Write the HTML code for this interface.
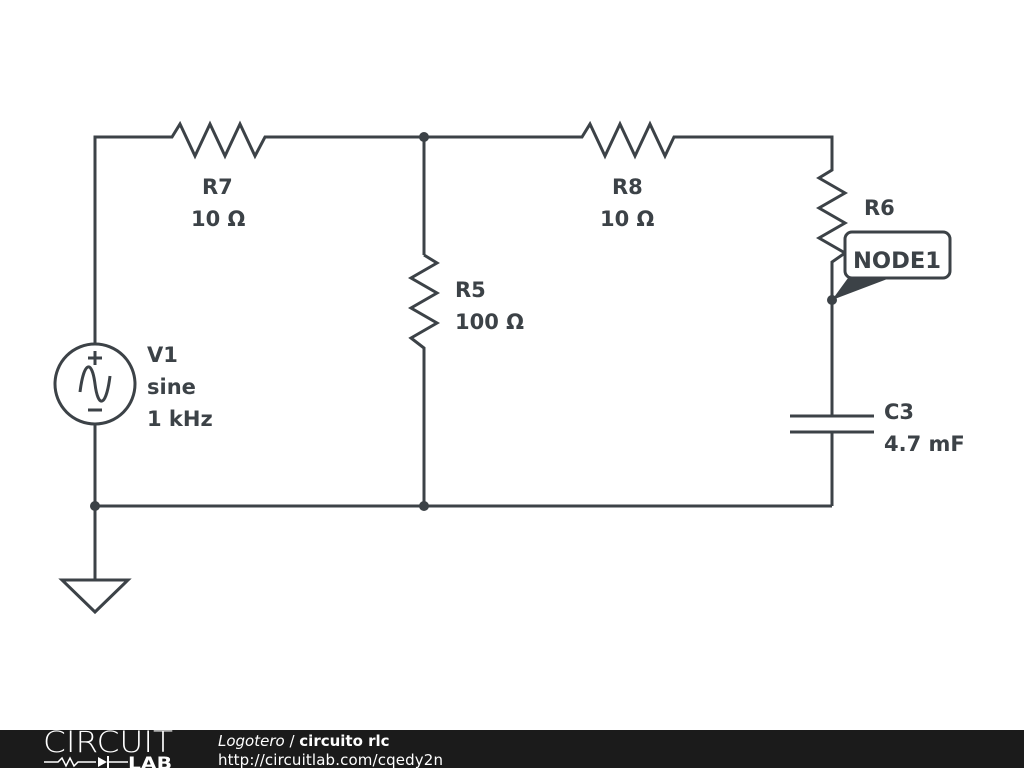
<!DOCTYPE html>
<html><head><style>
body{margin:0;width:1024px;height:768px;background:#fff;overflow:hidden;font-family:"Liberation Sans",sans-serif}
</style></head><body>
<svg width="1024" height="768" viewBox="0 0 1024 768" xmlns="http://www.w3.org/2000/svg">
<g fill="none" stroke="#3c4247" stroke-width="3" stroke-linejoin="miter">
<polyline points="95,344 95,137 172,137 180,124 195,156 210,124 225,156 240,124 255,156 265,137 582,137 590,124 605,156 620,124 635,156 650,124 665,156 674,137 832,137 832,170 819,178 845,193 819,208 845,223 819,238 845,253 832,262 832,416"/>
<line x1="424" y1="137" x2="424" y2="255"/>
<polyline points="424,255 437,263 411,278 437,293 411,308 437,323 411,338 424,348 424,506"/>
<line x1="95" y1="424" x2="95" y2="580"/>
<line x1="95" y1="506" x2="832" y2="506"/>
<line x1="832" y1="432" x2="832" y2="506"/>
<line x1="790" y1="416" x2="874" y2="416"/>
<line x1="790" y1="432" x2="874" y2="432"/>
<circle cx="95" cy="384" r="40"/>
<line x1="88" y1="358" x2="102" y2="358"/><line x1="95" y1="351" x2="95" y2="365"/>
<line x1="88" y1="410" x2="102" y2="410"/>
<path d="M80,392 C84,360 92,360 95,384 C98,408 106,408 110,376"/>
<polygon points="62,580 128,580 95,612"/>
</g>
<g fill="#3c4247">
<circle cx="424" cy="137" r="5"/><circle cx="424" cy="506" r="5"/><circle cx="95" cy="506" r="5"/><circle cx="832" cy="300" r="5"/>
<polygon points="832,300 848,278 890,278"/>
</g>
<rect x="845" y="232" width="105" height="46" rx="7" fill="#fff" stroke="#3c4247" stroke-width="3"/>
<g font-family="DejaVu Sans,sans-serif" font-weight="bold" font-size="21" fill="#3c4247">
<text x="202" y="194">R7</text><text x="191" y="226">10 Ω</text>
<text x="612" y="194">R8</text><text x="600" y="226">10 Ω</text>
<text x="455" y="297">R5</text><text x="455" y="329">100 Ω</text>
<text x="864" y="215">R6</text>
<text x="853" y="268" font-size="22" textLength="88" lengthAdjust="spacingAndGlyphs">NODE1</text>
<text x="147" y="362">V1</text><text x="147" y="394">sine</text><text x="147" y="426">1 kHz</text>
<text x="884" y="419">C3</text><text x="884" y="451">4.7 mF</text>
</g>
<rect x="0" y="730" width="1024" height="38" fill="#1b1b1b"/>
<text x="43" y="752" font-size="29" fill="#fff" font-family="DejaVu Sans,sans-serif" font-weight="200" textLength="130" lengthAdjust="spacingAndGlyphs">CIRCUIT</text>
<polyline points="44,762 58,762 62,758 66,766 70,758 74,766 78,762 96,762" fill="none" stroke="#fff" stroke-width="1.5"/>
<polygon points="98,757 98,767 107,762" fill="#fff"/><line x1="108" y1="756" x2="108" y2="768" stroke="#fff" stroke-width="2"/>
<line x1="108" y1="762" x2="128" y2="762" stroke="#fff" stroke-width="1.5"/>
<text x="128" y="769" font-size="17" font-weight="bold" fill="#fff" font-family="DejaVu Sans,sans-serif" textLength="44" lengthAdjust="spacingAndGlyphs">LAB</text>
<text x="218" y="746" font-size="15" fill="#fff" font-family="DejaVu Sans,sans-serif"><tspan font-style="italic">Logotero</tspan> / <tspan font-weight="bold">circuito rlc</tspan></text>
<text x="218" y="765" font-size="15" fill="#fff" font-family="DejaVu Sans,sans-serif" textLength="225">http://circuitlab.com/cqedy2n</text>
</svg>
</body></html>
